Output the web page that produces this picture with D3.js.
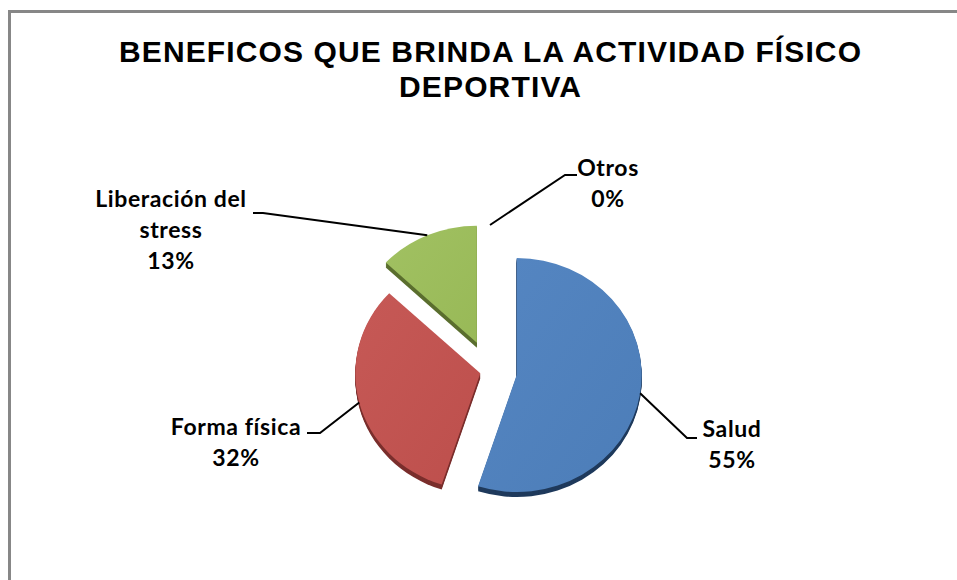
<!DOCTYPE html>
<html>
<head>
<meta charset="utf-8">
<script src="https://cdn.jsdelivr.net/npm/d3@7"></script>
<style>
  body { margin: 0; background: #fff; }
  .title { font-family: "Liberation Sans", Arial, sans-serif; font-weight: bold; font-size: 30px; fill: #000; }
  .label { font-family: Lato, "Open Sans", sans-serif; font-weight: bold; font-size: 23px; letter-spacing: 0.6px; fill: #000; }
</style>
</head>
<body>
<div id="chart-area"></div>
<script>

// Data
let categories = ["Salud", "Forma física", "Liberación del stress", "Otros"];
let values = [55, 32, 13, 0];
let labelLines = [["Salud", "55%"], ["Forma física", "32%"], ["Liberación del", "stress", "13%"], ["Otros", "0%"]];
let titleLines = ["BENEFICOS QUE BRINDA LA ACTIVIDAD FÍSICO", "DEPORTIVA"];

let colors = ["#4c7db8", "#bd4f4c", "#98b957", "#8064a2"];
let lightColors = ["#5586c2", "#c65956", "#a1c162", "#8c70ae"];
let sideColors = ["#1f3a5c", "#7a2e2c", "#5a6e2e", "#4c3a63"];

// Layout
let width = 957, height = 580;
let cx = 490, cy = 371;
let radius = 125, tilt = 0.936, depth = 5;
let explode = [27, 10, 33, 31];
let titleWidths = [742, 182];

// label text position (center x, first baseline) and leader elbow
let labelPos = [
  {x: 732, y: 437, elbow: [687, 438], end: [697, 438]},
  {x: 236, y: 435, elbow: [320, 433], end: [307, 433]},
  {x: 171, y: 207, elbow: [263, 213], end: [253, 213]},
  {x: 608, y: 176, elbow: [565, 175], end: [577, 175]}
];
let lineHeight = 31;

let svg = d3.select("#chart-area").append("svg")
    .attr("width", width)
    .attr("height", height);

// frame
svg.append("path")
    .attr("d", "M9.5," + height + "V11.5H" + width)
    .attr("fill", "none")
    .attr("stroke", "#878787")
    .attr("stroke-width", 3);

// title
svg.selectAll(".title")
    .data(titleLines)
  .enter().append("text")
    .attr("class", "title")
    .attr("x", 490)
    .attr("y", (d, i) => 62 + i * 35)
    .attr("text-anchor", "middle")
    .attr("textLength", (d, i) => titleWidths[i])
    .attr("lengthAdjust", "spacing")
    .text(d => d);

let data = categories.map((c, i) => ({name: c, value: values[i], i: i}));

let pie = d3.pie()
    .sort(null)
    .value(d => d.value);

let arc = d3.arc()
    .innerRadius(0)
    .outerRadius(radius);

let arcs = pie(data);

// gradients for top faces
let defs = svg.append("defs");
arcs.forEach((a, i) => {
  let g = defs.append("linearGradient")
      .attr("id", "grad" + i)
      .attr("x1", "0%").attr("y1", "0%")
      .attr("x2", "100%").attr("y2", "100%");
  g.append("stop").attr("offset", "0%").attr("stop-color", lightColors[i]);
  g.append("stop").attr("offset", "100%").attr("stop-color", colors[i]);
});

function sliceOffset(a) {
  let mid = (a.startAngle + a.endAngle) / 2;
  let e = explode[a.index];
  return [Math.sin(mid) * e, -Math.cos(mid) * e * tilt];
}

let slices = svg.selectAll(".slice")
    .data(arcs.filter(a => a.value > 0))
  .enter().append("g")
    .attr("class", "slice")
    .attr("transform", a => {
      let o = sliceOffset(a);
      return "translate(" + (cx + o[0]) + "," + (cy + o[1]) + ")";
    });

// side (depth)
for (let k = depth; k > 0; k--) {
  slices.append("path")
      .attr("transform", "translate(0," + k + ") scale(1," + tilt + ")")
      .attr("d", arc)
      .attr("fill", a => sideColors[a.index]);
}

// top face
slices.append("path")
    .attr("transform", "scale(1," + tilt + ")")
    .attr("d", arc)
    .attr("fill", a => "url(#grad" + a.index + ")");

// leader lines
svg.selectAll(".leader")
    .data(arcs)
  .enter().append("polyline")
    .attr("class", "leader")
    .attr("fill", "none")
    .attr("stroke", "#000")
    .attr("stroke-width", 2)
    .attr("points", a => {
      let o = sliceOffset(a);
      let mid = (a.startAngle + a.endAngle) / 2;
      let sx = cx + o[0] + Math.sin(mid) * radius;
      let sy = cy + o[1] - Math.cos(mid) * radius * tilt;
      let p = labelPos[a.index];
      return [[sx, sy], p.elbow, p.end].map(q => q.join(",")).join(" ");
    });

// labels
let labels = svg.selectAll(".label")
    .data(arcs)
  .enter().append("text")
    .attr("class", "label")
    .attr("text-anchor", "middle");

labels.selectAll("tspan")
    .data(a => labelLines[a.index].map(t => ({t: t, p: labelPos[a.index]})))
  .enter().append("tspan")
    .attr("x", d => d.p.x)
    .attr("y", (d, j) => d.p.y + j * lineHeight)
    .text(d => d.t);

</script>
</body>
</html>
